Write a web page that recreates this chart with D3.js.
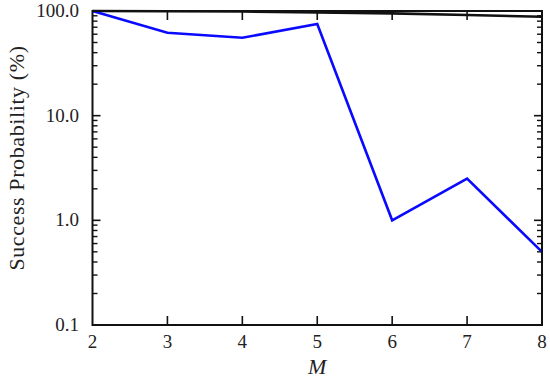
<!DOCTYPE html>
<html>
<head>
<meta charset="utf-8">
<script src="https://cdn.jsdelivr.net/npm/d3@7"></script>
<style>
  body { margin: 0; background: #fff; }
  text { font-family: "Liberation Serif", "Times New Roman", serif; fill: #222; }
</style>
</head>
<body>
<script>
// data
var M        = [2, 3, 4, 5, 6, 7, 8]
  , blue     = [100, 62, 55.5, 75, 1.0, 2.5, 0.5]
  , black    = [100, 99.5, 99, 97, 95, 91.5, 88]
  , yTicks   = [0.1, 1, 10, 100]
  , yLabels  = ["0.1", "1.0", "10.0", "100.0"]

// plot box (note: "top" is reserved on window, so use pTop etc)
var W = 550, H = 381
  , pLeft = 92.5, pRight = 542, pTop = 11, pBottom = 325

var svg = d3.select("body").append("svg")
  .attr("width", W).attr("height", H)

var x = d3.scaleLinear().domain([2, 8]).range([pLeft, pRight])
var y = d3.scaleLog().domain([0.1, 100]).range([pBottom, pTop])

// minor ticks 2..9 for each decade
var minor = []
yTicks.slice(0, 3).forEach(function (d) {
  for (var k = 2; k < 10; k++) minor.push(d * k)
})

var g = svg.append("g")

// y ticks, both sides, pointing in
g.selectAll(".ymaj").data(yTicks).enter().append("line")
  .attr("x1", pLeft).attr("x2", pLeft + 8)
  .attr("y1", function (d) { return y(d) }).attr("y2", function (d) { return y(d) })
  .attr("stroke", "#111").attr("stroke-width", 1.6)
g.selectAll(".ymajr").data(yTicks).enter().append("line")
  .attr("x1", pRight).attr("x2", pRight - 8)
  .attr("y1", function (d) { return y(d) }).attr("y2", function (d) { return y(d) })
  .attr("stroke", "#111").attr("stroke-width", 1.6)
g.selectAll(".ymin").data(minor).enter().append("line")
  .attr("x1", pLeft).attr("x2", pLeft + 5)
  .attr("y1", function (d) { return y(d) }).attr("y2", function (d) { return y(d) })
  .attr("stroke", "#111").attr("stroke-width", 1.4)
g.selectAll(".yminr").data(minor).enter().append("line")
  .attr("x1", pRight).attr("x2", pRight - 5)
  .attr("y1", function (d) { return y(d) }).attr("y2", function (d) { return y(d) })
  .attr("stroke", "#111").attr("stroke-width", 1.4)

// x ticks, top and bottom
var xin = M.slice(1, -1)
g.selectAll(".xb").data(xin).enter().append("line")
  .attr("x1", function (d) { return x(d) }).attr("x2", function (d) { return x(d) })
  .attr("y1", pBottom).attr("y2", pBottom - 9)
  .attr("stroke", "#111").attr("stroke-width", 1.6)
g.selectAll(".xt").data(xin).enter().append("line")
  .attr("x1", function (d) { return x(d) }).attr("x2", function (d) { return x(d) })
  .attr("y1", pTop).attr("y2", pTop + 9)
  .attr("stroke", "#111").attr("stroke-width", 1.6)

// tick labels
g.selectAll(".xl").data(M).enter().append("text")
  .attr("x", function (d) { return x(d) }).attr("y", 348)
  .attr("text-anchor", "middle").attr("font-size", 19)
  .text(function (d) { return d })
g.selectAll(".yl").data(yTicks).enter().append("text")
  .attr("x", 79).attr("y", function (d) { return y(d) + 6 })
  .attr("text-anchor", "end").attr("font-size", 19)
  .text(function (d, i) { return yLabels[i] })

// lines
var line = d3.line()
  .x(function (d, i) { return x(M[i]) })
  .y(function (d) { return y(d) })

svg.append("path").datum(black)
  .attr("d", line).attr("fill", "none")
  .attr("stroke", "#111").attr("stroke-width", 2.6)
svg.append("path").datum(blue)
  .attr("d", line).attr("fill", "none")
  .attr("stroke", "#0a0aff").attr("stroke-width", 2.6)

// frame
svg.append("rect")
  .attr("x", pLeft).attr("y", pTop)
  .attr("width", pRight - pLeft).attr("height", pBottom - pTop)
  .attr("fill", "none").attr("stroke", "#111").attr("stroke-width", 2)

// axis titles
svg.append("text")
  .attr("x", (pLeft + pRight) / 2).attr("y", 374)
  .attr("text-anchor", "middle").attr("font-size", 22)
  .attr("font-style", "italic")
  .text("M")
svg.append("text")
  .attr("transform", "translate(24," + ((pTop + pBottom) / 2 - 10) + ") rotate(-90)")
  .attr("text-anchor", "middle").attr("font-size", 22)
  .attr("letter-spacing", 0.6)
  .text("Success Probability (%)")
</script>
</body>
</html>
